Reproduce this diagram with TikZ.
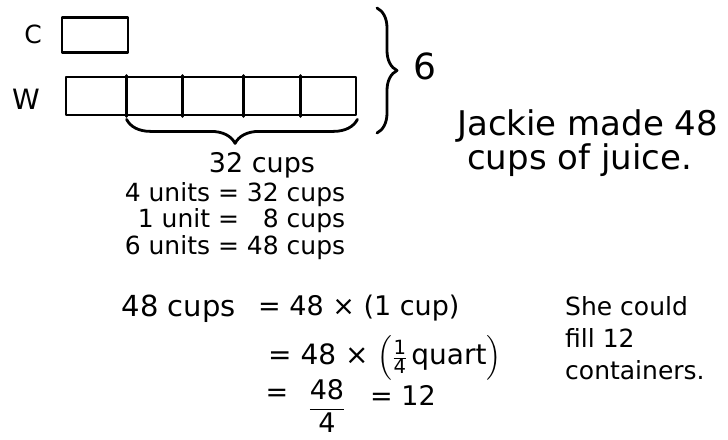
\documentclass[tikz,border=0pt]{standalone}
\usepackage{amsmath}
\usepackage{fontspec}
\setmainfont{DejaVu Sans}
\usetikzlibrary{positioning,decorations.pathreplacing}
\tikzset{
  pen/.style={line width=2.8pt,line join=round,line cap=round},
  tape/.style={draw,pen,inner sep=0pt},
  brc/.style={pen,decorate,decoration={brace,amplitude=#1}},
  hand/.style={inner sep=0pt,font=\fontsize{#1}{#1}\selectfont},
}

\begin{document}
\begin{tikzpicture}[x=1pt,y=1pt]
\useasboundingbox (0,0) rectangle (728,-439);
% the two bars
\node[tape,minimum width=66pt,minimum height=35pt] (C) at (95,-35) {};
\node[tape,minimum width=290pt,minimum height=38pt] (W) at (211,-96) {};
\node[hand=25] (labC) at (33,-34) {C};
\node[hand=28] (labW) at (26,-99) {W};
\foreach \dx in {62,118,179,236}
  \draw[pen] ([xshift=\dx pt]W.north west) -- ([xshift=\dx pt]W.south west);
% braces
\coordinate (bt) at (377,-8);
\coordinate (bb) at (377,-133);
\draw[brc=20] (bt) -- (bb);
\node[hand=36] (six) at (425,-66) {6};
\coordinate (u4) at ([xshift=62pt,yshift=-3pt]W.south west);
\coordinate (ue) at ([yshift=-3pt]W.south east);
\draw[brc=24,decoration={aspect=0.53}] (ue) -- (u4);
\node[hand=27] (cups32) at (262,-165) {32 cups};
\node[hand=25,font=\fontsize{25}{24}\selectfont] (units) at (235,-222) {%
  \begin{tabular}{@{}r@{~=~}r@{}}
  4 units & 32 cups\\
  1 unit & 8 cups\\
  6 units & 48 cups
  \end{tabular}};
% answer
\node[hand=34,anchor=west] (jk1) at (457,-126) {Jackie made 48};
\node[hand=34,anchor=west] (jk2) at (467,-160) {cups of juice.};
% conversion
\node[hand=29,anchor=east] (lhs) at (236,-309) {48 cups};
\node[hand=27,anchor=west] (eq1) at (258,-308) {= 48 × (1 cup)};
\node[hand=28,anchor=west] (eq2) at (268,-358) {= 48 × $\Bigl(\frac{\text{1}}{\text{4}}\,\text{quart}\Bigr)$};
\node[hand=27] (eq3) at (277,-395) {=};
\node[hand=27] (frac) at (327,-406) {$\dfrac{\text{48}}{\text{4}}$};
\node[hand=27,anchor=west] (res) at (370,-395) {= 12};
\node[hand=25,font=\fontsize{25}{32}\selectfont,anchor=north west,align=left] (she) at (565,-296) {She could\\fill 12\\containers.};
\end{tikzpicture}
\end{document}
